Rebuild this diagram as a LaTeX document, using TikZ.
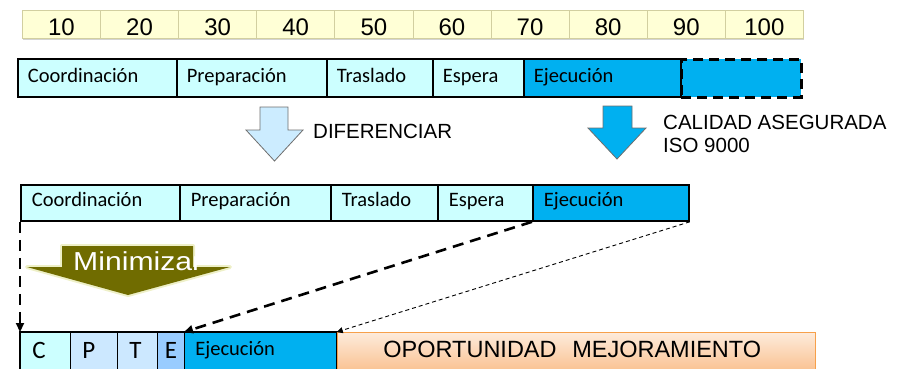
\documentclass[tikz,border=0pt]{standalone}
\usepackage{fontspec}
\setmainfont{Liberation Sans}
\newfontfamily\carl{Carlito}
\usetikzlibrary{arrows.meta,shadows}

\definecolor{rulerfill}{HTML}{FFFFD6}
\definecolor{rulerline}{HTML}{D2CFA0}
\definecolor{segcyan}{HTML}{CCFFFF}
\definecolor{segblue}{HTML}{00B0F0}
\definecolor{segpale}{HTML}{CCE8FF}
\definecolor{segmid}{HTML}{99CCFF}
\definecolor{arrowlite}{HTML}{CCECFF}
\definecolor{arrowgray}{HTML}{6E6E6E}
\definecolor{olivedark}{HTML}{706C00}
\definecolor{oliveglow}{HTML}{EEF0C8}
\definecolor{orangetop}{HTML}{FDEBDB}
\definecolor{orangebot}{HTML}{FAC08F}
\definecolor{orangeline}{HTML}{F7A04A}

\tikzset{
  tick/.style={draw=rulerline, fill=rulerfill, line width=0.8pt, anchor=north west,
    minimum width=78.1pt, minimum height=28pt, inner sep=0pt, text height=22pt, text depth=0pt,
    font=\fontsize{24}{24}\selectfont,
    drop shadow={opacity=0.35, shadow xshift=1pt, shadow yshift=-2pt}},
  seg/.style={draw=black, line width=1.8pt, anchor=north west, inner ysep=0pt,
    align=left, text depth=0pt, font=\carl\fontsize{20.5}{20.5}\selectfont},
  rowa/.style={seg, minimum height=38pt, text height=10pt, inner xsep=10pt},
  rowb/.style={seg, minimum height=36pt, text height=8pt, inner xsep=11pt},
  rowc/.style={seg, line width=0.8pt, minimum height=40pt, text height=12pt, inner xsep=12pt},
  letter/.style={rowc, font=\carl\fontsize{25}{25}\selectfont},
  lbl/.style={anchor=base west, inner sep=0pt, font=\fontsize{20.5}{20.5}\selectfont},
  bigdash/.style={line width=2.6pt, dash pattern=on 11pt off 7pt, -{Triangle[length=9pt,width=8pt]}},
  smalldash/.style={line width=0.9pt, dash pattern=on 4pt off 3pt, -{Triangle[length=6pt,width=6pt]}}
}

\begin{document}
\begin{tikzpicture}[x=1pt,y=-1pt]
  \useasboundingbox (0,0) rectangle (898,368);

  \foreach \n [count=\i from 0] in {10,20,...,100}
    \node[tick] (t\n) at (22+78.1*\i,10) {\n};

  \node[anchor=north west, fill=segblue, draw=black, line width=2.6pt, dash pattern=on 10pt off 6pt,
    minimum width=120pt, minimum height=38pt] (a6) at (680,58) {};
  \node[rowa, fill=segcyan, text width=139pt] (a1) at (17,58) {Coordinación};
  \node[rowa, fill=segcyan, text width=130pt] (a2) at (176,58) {Preparación};
  \node[rowa, fill=segcyan, text width=86pt] (a3) at (326,58) {Traslado};
  \node[rowa, fill=segcyan, text width=71pt] (a4) at (432,58) {Espera};
  \node[rowa, fill=segblue, text width=137pt] (a5) at (523,58) {Ejecución};

  \draw[arrowgray, fill=arrowlite, line width=0.8pt]
    (260,107) -- (288,107) -- (288,130) -- (303,130) -- (274.5,161) -- (246,130) -- (260,130) -- cycle;
  \node[lbl] (dif) at (313,138) {DIFERENCIAR};
  \draw[arrowgray, fill=segblue, line width=0.8pt]
    (603,106) -- (632,106) -- (632,128) -- (646,128) -- (617,159) -- (588,128) -- (603,128) -- cycle;
  \node[lbl] (cal) at (663,129) {CALIDAD ASEGURADA};
  \node[lbl] (iso) at (663,152) {ISO 9000};

  \node[rowb, fill=segcyan, text width=137pt] (b1) at (20,184) {Coordinación};
  \node[rowb, fill=segcyan, text width=129pt] (b2) at (179,184) {Preparación};
  \node[rowb, fill=segcyan, text width=85pt] (b3) at (330,184) {Traslado};
  \node[rowb, fill=segcyan, text width=73pt] (b4) at (437,184) {Espera};
  \node[rowb, fill=segblue, text width=134pt] (b5) at (532,184) {Ejecución};

  \draw[oliveglow, line width=4pt, line join=round]
    (62,246) -- (193,246) -- (193,267) -- (230,267) -- (128,295) -- (27,267) -- (62,267) -- cycle;
  \fill[olivedark]
    (62,246) -- (193,246) -- (193,267) -- (230,267) -- (128,295) -- (27,267) -- (62,267) -- cycle;
  \node[anchor=base west, inner sep=0pt, text=white, xscale=1.16, font=\fontsize{26}{26}\selectfont]
    (mini) at (73,270) {Minimizar};

  \node[letter, fill=segcyan, text width=26pt] (c1) at (20,332) {C};
  \node[letter, fill=segpale, text width=23pt] (c2) at (70,332) {P};
  \node[letter, fill=segpale, text width=16pt] (c3) at (117,332) {T};
  \node[letter, fill=segmid, text width=21pt, inner xsep=3pt, align=center] (c4) at (157,332) {E};
  \node[rowc, fill=segblue, text width=130pt, text height=6pt, inner xsep=11pt,
    font=\carl\fontsize{20.5}{20.5}\selectfont] (c5) at (184,332) {Ejecución};
  \draw[line width=1.8pt] (c1.south west) -- (c1.north west) -- (c5.north east) -- (c5.south east);
  \node[anchor=north west, draw=orangeline, line width=0.8pt, top color=orangetop, bottom color=orangebot,
    minimum height=40pt, inner xsep=46pt, inner ysep=0pt, text width=386pt, align=left,
    text height=10pt, text depth=0pt, font=\fontsize{23.5}{23.5}\selectfont]
    (opp) at (337,332) {OPORTUNIDAD~~MEJORAMIENTO};

  \draw[bigdash] (b1.south west) -- (c1.north west);
  \draw[bigdash] (b5.south west) -- (c5.north west);
  \draw[smalldash] (b5.south east) -- (c5.north east);
\end{tikzpicture}
\end{document}
